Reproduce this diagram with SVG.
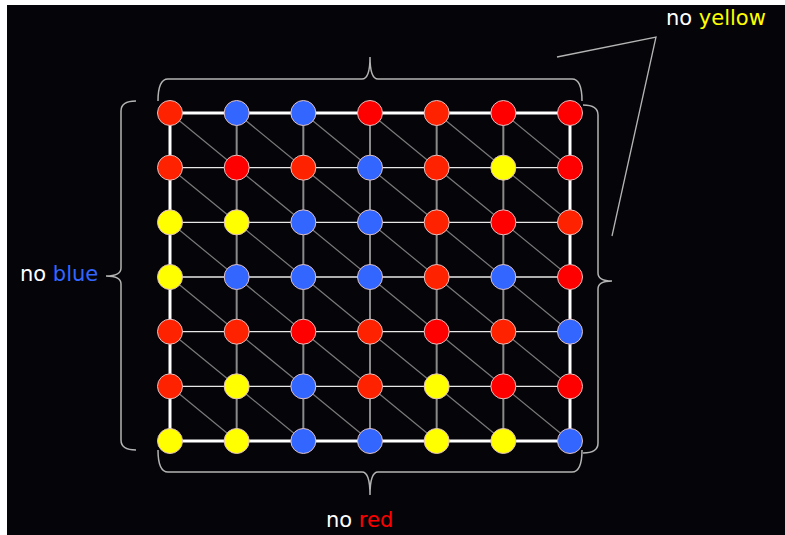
<svg xmlns="http://www.w3.org/2000/svg" width="785" height="535" viewBox="0 0 785 535">
<style>
.bg{fill:#050409}
.outer{fill:none;stroke:#ffffff;stroke-width:3}
.h{stroke:#e8e8e8;stroke-width:1.3}
.v{stroke:#8a8a8a;stroke-width:2}
.d{stroke:#7a7a7a;stroke-width:1.2}
.brace{fill:none;stroke:#b4b4b4;stroke-width:1.5}
.ptr{fill:none;stroke:#b4b4b4;stroke-width:1.3}
.n{stroke:#e0c0c0;stroke-width:1}
.O{fill:#ff2200}
.R{fill:#ff0000}
.B{fill:#3366ff}
.Y{fill:#ffff00}
.t{font-family:"DejaVu Sans","Liberation Sans",sans-serif;font-size:21px}
</style>
<rect width="785" height="535" fill="#ffffff"/>
<rect class="bg" x="7" y="5" width="778" height="530"/>
<g id="connectors">
<line class="d" x1="170" y1="113" x2="236.67" y2="167.67"/><line class="d" x1="236.67" y1="113" x2="303.33" y2="167.67"/><line class="d" x1="303.33" y1="113" x2="370" y2="167.67"/><line class="d" x1="370" y1="113" x2="436.67" y2="167.67"/><line class="d" x1="436.67" y1="113" x2="503.33" y2="167.67"/><line class="d" x1="503.33" y1="113" x2="570" y2="167.67"/>
<line class="d" x1="170" y1="167.67" x2="236.67" y2="222.33"/><line class="d" x1="236.67" y1="167.67" x2="303.33" y2="222.33"/><line class="d" x1="303.33" y1="167.67" x2="370" y2="222.33"/><line class="d" x1="370" y1="167.67" x2="436.67" y2="222.33"/><line class="d" x1="436.67" y1="167.67" x2="503.33" y2="222.33"/><line class="d" x1="503.33" y1="167.67" x2="570" y2="222.33"/>
<line class="d" x1="170" y1="222.33" x2="236.67" y2="277"/><line class="d" x1="236.67" y1="222.33" x2="303.33" y2="277"/><line class="d" x1="303.33" y1="222.33" x2="370" y2="277"/><line class="d" x1="370" y1="222.33" x2="436.67" y2="277"/><line class="d" x1="436.67" y1="222.33" x2="503.33" y2="277"/><line class="d" x1="503.33" y1="222.33" x2="570" y2="277"/>
<line class="d" x1="170" y1="277" x2="236.67" y2="331.67"/><line class="d" x1="236.67" y1="277" x2="303.33" y2="331.67"/><line class="d" x1="303.33" y1="277" x2="370" y2="331.67"/><line class="d" x1="370" y1="277" x2="436.67" y2="331.67"/><line class="d" x1="436.67" y1="277" x2="503.33" y2="331.67"/><line class="d" x1="503.33" y1="277" x2="570" y2="331.67"/>
<line class="d" x1="170" y1="331.67" x2="236.67" y2="386.33"/><line class="d" x1="236.67" y1="331.67" x2="303.33" y2="386.33"/><line class="d" x1="303.33" y1="331.67" x2="370" y2="386.33"/><line class="d" x1="370" y1="331.67" x2="436.67" y2="386.33"/><line class="d" x1="436.67" y1="331.67" x2="503.33" y2="386.33"/><line class="d" x1="503.33" y1="331.67" x2="570" y2="386.33"/>
<line class="d" x1="170" y1="386.33" x2="236.67" y2="441"/><line class="d" x1="236.67" y1="386.33" x2="303.33" y2="441"/><line class="d" x1="303.33" y1="386.33" x2="370" y2="441"/><line class="d" x1="370" y1="386.33" x2="436.67" y2="441"/><line class="d" x1="436.67" y1="386.33" x2="503.33" y2="441"/><line class="d" x1="503.33" y1="386.33" x2="570" y2="441"/>
<line class="v" x1="236.67" y1="113" x2="236.67" y2="441"/><line class="v" x1="303.33" y1="113" x2="303.33" y2="441"/><line class="v" x1="370" y1="113" x2="370" y2="441"/><line class="v" x1="436.67" y1="113" x2="436.67" y2="441"/><line class="v" x1="503.33" y1="113" x2="503.33" y2="441"/>
<line class="h" x1="170" y1="167.67" x2="570" y2="167.67"/><line class="h" x1="170" y1="222.33" x2="570" y2="222.33"/><line class="h" x1="170" y1="277" x2="570" y2="277"/><line class="h" x1="170" y1="331.67" x2="570" y2="331.67"/><line class="h" x1="170" y1="386.33" x2="570" y2="386.33"/>
<rect class="outer" x="170" y="113" width="400" height="328"/>
</g>
<g id="braces">
<path class="brace" d="M158,101 Q158,79 168,79 L362,79 Q370,79 370,57 Q370,79 378,79 L572,79 Q582,79 582,101"/>
<path class="brace" d="M158,450 Q158,472 168,472 L362,472 Q370,472 370,495 Q370,472 378,472 L572,472 Q582,472 582,450"/>
<path class="brace" d="M136,101 Q121,101 121,111 L121,268 Q121,276 106,276 Q121,276 121,284 L121,440 Q121,450 136,450"/>
<path class="brace" d="M583,105 Q598,105 598,115 L598,273 Q598,281 612,281 Q598,281 598,289 L598,443 Q598,453 583,453"/>
<polyline class="ptr" points="557,57 656,37 612,236"/>
</g>
<g id="nodes">
<g id="n00"><circle class="n O" cx="170" cy="113" r="12.5"/></g>
<g id="n01"><circle class="n B" cx="236.67" cy="113" r="12.5"/></g>
<g id="n02"><circle class="n B" cx="303.33" cy="113" r="12.5"/></g>
<g id="n03"><circle class="n R" cx="370" cy="113" r="12.5"/></g>
<g id="n04"><circle class="n O" cx="436.67" cy="113" r="12.5"/></g>
<g id="n05"><circle class="n R" cx="503.33" cy="113" r="12.5"/></g>
<g id="n06"><circle class="n R" cx="570" cy="113" r="12.5"/></g>
<g id="n10"><circle class="n O" cx="170" cy="167.67" r="12.5"/></g>
<g id="n11"><circle class="n R" cx="236.67" cy="167.67" r="12.5"/></g>
<g id="n12"><circle class="n O" cx="303.33" cy="167.67" r="12.5"/></g>
<g id="n13"><circle class="n B" cx="370" cy="167.67" r="12.5"/></g>
<g id="n14"><circle class="n O" cx="436.67" cy="167.67" r="12.5"/></g>
<g id="n15"><circle class="n Y" cx="503.33" cy="167.67" r="12.5"/></g>
<g id="n16"><circle class="n R" cx="570" cy="167.67" r="12.5"/></g>
<g id="n20"><circle class="n Y" cx="170" cy="222.33" r="12.5"/></g>
<g id="n21"><circle class="n Y" cx="236.67" cy="222.33" r="12.5"/></g>
<g id="n22"><circle class="n B" cx="303.33" cy="222.33" r="12.5"/></g>
<g id="n23"><circle class="n B" cx="370" cy="222.33" r="12.5"/></g>
<g id="n24"><circle class="n O" cx="436.67" cy="222.33" r="12.5"/></g>
<g id="n25"><circle class="n R" cx="503.33" cy="222.33" r="12.5"/></g>
<g id="n26"><circle class="n O" cx="570" cy="222.33" r="12.5"/></g>
<g id="n30"><circle class="n Y" cx="170" cy="277" r="12.5"/></g>
<g id="n31"><circle class="n B" cx="236.67" cy="277" r="12.5"/></g>
<g id="n32"><circle class="n B" cx="303.33" cy="277" r="12.5"/></g>
<g id="n33"><circle class="n B" cx="370" cy="277" r="12.5"/></g>
<g id="n34"><circle class="n O" cx="436.67" cy="277" r="12.5"/></g>
<g id="n35"><circle class="n B" cx="503.33" cy="277" r="12.5"/></g>
<g id="n36"><circle class="n R" cx="570" cy="277" r="12.5"/></g>
<g id="n40"><circle class="n O" cx="170" cy="331.67" r="12.5"/></g>
<g id="n41"><circle class="n O" cx="236.67" cy="331.67" r="12.5"/></g>
<g id="n42"><circle class="n R" cx="303.33" cy="331.67" r="12.5"/></g>
<g id="n43"><circle class="n O" cx="370" cy="331.67" r="12.5"/></g>
<g id="n44"><circle class="n R" cx="436.67" cy="331.67" r="12.5"/></g>
<g id="n45"><circle class="n O" cx="503.33" cy="331.67" r="12.5"/></g>
<g id="n46"><circle class="n B" cx="570" cy="331.67" r="12.5"/></g>
<g id="n50"><circle class="n O" cx="170" cy="386.33" r="12.5"/></g>
<g id="n51"><circle class="n Y" cx="236.67" cy="386.33" r="12.5"/></g>
<g id="n52"><circle class="n B" cx="303.33" cy="386.33" r="12.5"/></g>
<g id="n53"><circle class="n O" cx="370" cy="386.33" r="12.5"/></g>
<g id="n54"><circle class="n Y" cx="436.67" cy="386.33" r="12.5"/></g>
<g id="n55"><circle class="n R" cx="503.33" cy="386.33" r="12.5"/></g>
<g id="n56"><circle class="n R" cx="570" cy="386.33" r="12.5"/></g>
<g id="n60"><circle class="n Y" cx="170" cy="441" r="12.5"/></g>
<g id="n61"><circle class="n Y" cx="236.67" cy="441" r="12.5"/></g>
<g id="n62"><circle class="n B" cx="303.33" cy="441" r="12.5"/></g>
<g id="n63"><circle class="n B" cx="370" cy="441" r="12.5"/></g>
<g id="n64"><circle class="n Y" cx="436.67" cy="441" r="12.5"/></g>
<g id="n65"><circle class="n Y" cx="503.33" cy="441" r="12.5"/></g>
<g id="n66"><circle class="n B" cx="570" cy="441" r="12.5"/></g>
</g>
<g id="labels">
<text class="t" x="666" y="25" fill="#ffffff">no <tspan fill="#ffff00">yellow</tspan></text>
<text class="t" x="20" y="281" fill="#ffffff">no <tspan fill="#3366ff">blue</tspan></text>
<text class="t" x="326" y="527" fill="#ffffff">no <tspan fill="#ff0000">red</tspan></text>
</g>
</svg>
